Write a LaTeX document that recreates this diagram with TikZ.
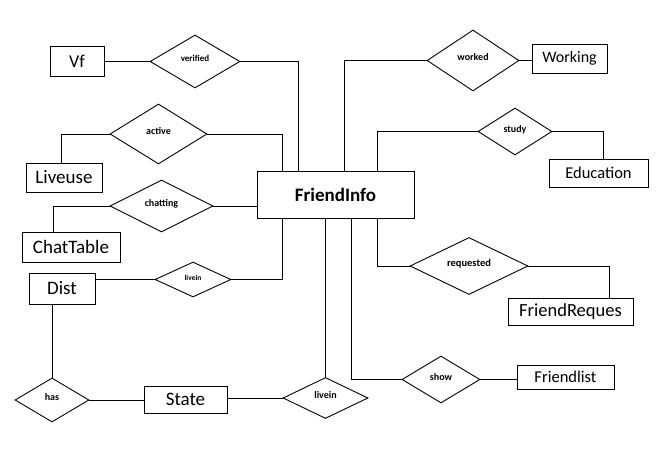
\documentclass[tikz,border=0pt]{standalone}
\usepackage{fontspec}
\setmainfont{Carlito}
\usetikzlibrary{shapes.geometric}

\begin{document}
\begin{tikzpicture}[x=1pt,y=-1pt,line width=0.9pt,
  entity/.style={draw,rectangle,inner sep=0pt,font=\fontsize{18}{20}\selectfont},
  relation/.style={draw,diamond,inner sep=0pt,text height=7pt,text depth=6pt,font=\fontsize{10}{11}\selectfont\bfseries}]
\useasboundingbox (0,0) rectangle (670,452);

% entities
\node[entity,minimum width=157pt,minimum height=47pt,font=\fontsize{19}{21}\selectfont\bfseries] (FriendInfo) at (335.5,194.5) {FriendInfo};
\node[entity,minimum width=54pt,minimum height=30pt] (Vf) at (77,61) {Vf};
\node[entity,minimum width=76pt,minimum height=29pt,font=\fontsize{19}{21}\selectfont] (Liveuse) at (64,177.5) {Liveuse};
\node[entity,minimum width=98pt,minimum height=30pt,font=\fontsize{19}{21}\selectfont] (ChatTable) at (71,247) {ChatTable};
\node[entity,minimum width=66pt,minimum height=31pt,font=\fontsize{19}{21}\selectfont] (Dist) at (62,288.5) {Dist};
\node[entity,minimum width=83pt,minimum height=27pt,font=\fontsize{19}{21}\selectfont] (State) at (185.5,399.5) {State};
\node[entity,minimum width=75pt,minimum height=29pt,font=\fontsize{16}{18}\selectfont] (Working) at (569.5,58.5) {Working};
\node[entity,minimum width=99pt,minimum height=28pt,font=\fontsize{16.5}{18}\selectfont] (Education) at (598.5,173) {Education};
\node[entity,minimum width=125pt,minimum height=27pt,font=\fontsize{18.5}{20}\selectfont] (FriendReques) at (570.5,311.5) {FriendReques};
\node[entity,minimum width=97pt,minimum height=24pt,font=\fontsize{16.5}{18}\selectfont] (Friendlist) at (565.5,377) {Friendlist};

% relations
\node[relation,minimum width=90pt,minimum height=53pt,font=\fontsize{9}{10}\selectfont\bfseries] (verified) at (195,61.5) {verified};
\node[relation,minimum width=97pt,minimum height=60pt] (active) at (158.5,134) {active};
\node[relation,minimum width=103pt,minimum height=52pt] (chatting) at (161.5,206) {chatting};
\node[relation,minimum width=76pt,minimum height=35pt,font=\fontsize{7.5}{9}\selectfont\bfseries] (liveinA) at (193,279.5) {livein};
\node[relation,minimum width=74pt,minimum height=44pt] (has) at (52,400) {has};
\node[relation,minimum width=85pt,minimum height=41pt] (liveinB) at (325.5,398) {livein};
\node[relation,minimum width=92pt,minimum height=61pt] (worked) at (473,60.5) {worked};
\node[relation,minimum width=74pt,minimum height=47pt] (study) at (515,131.5) {study};
\node[relation,minimum width=118pt,minimum height=52pt,font=\fontsize{10.5}{12}\selectfont\bfseries] (requested) at (469,266) {requested};
\node[relation,minimum width=78pt,minimum height=47pt] (show) at (441,379.5) {show};

% left side links
\draw (verified.west) -- (verified.west -| Vf.east);
\draw (verified.east) -| ([xshift=42pt]FriendInfo.north west);
\draw (active.east) -| ([xshift=26pt]FriendInfo.north west);
\draw (active.west) -| ([xshift=36pt]Liveuse.north west);
\draw (chatting.east) -- (chatting.east -| FriendInfo.west);
\draw (chatting.west) -| ([xshift=32pt]ChatTable.north west);
\draw (liveinA.west) -- (liveinA.west -| Dist.east);
\draw (liveinA.east) -| ([xshift=26pt]FriendInfo.south west);
\draw (has.north) -- (has.north |- Dist.south);
\draw (has.east) -- (has.east -| State.west);
\draw (liveinB.west) -- (liveinB.west -| State.east);
\draw (liveinB.north) -- (liveinB.north |- FriendInfo.south);

% right side links
\draw (worked.west) -| ([xshift=88pt]FriendInfo.north west);
\draw (worked.east) -- (worked.east -| Working.west);
\draw (study.west) -| ([xshift=121pt]FriendInfo.north west);
\draw (study.east) -| ([xshift=55pt]Education.north west);
\draw (requested.west) -| ([xshift=121pt]FriendInfo.south west);
\draw (requested.east) -| ([xshift=102pt]FriendReques.north west);
\draw (show.west) -| ([xshift=95pt]FriendInfo.south west);
\draw (show.east) -- (show.east -| Friendlist.west);
\end{tikzpicture}
\end{document}
